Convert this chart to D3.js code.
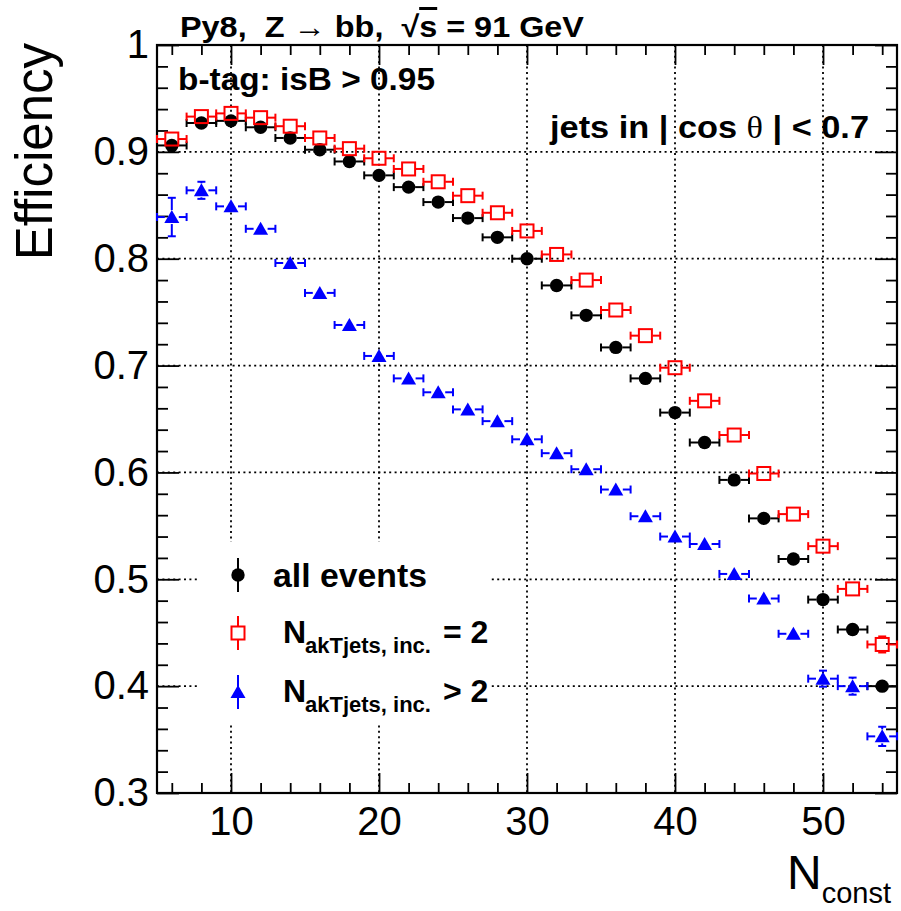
<!DOCTYPE html>
<html><head><meta charset="utf-8">
<script src="https://cdn.jsdelivr.net/npm/d3@7"></script>
<style>body{margin:0;background:#fff} svg{display:block} text{white-space:pre}</style>
</head><body>
<script>
// ---- data ----
const nconst = [6,8,10,12,14,16,18,20,22,24,26,28,30,32,34,36,38,40,42,44,46,48,50,52,54];
const binHalfWidth = 1;
const effAll  = [0.906,0.927,0.929,0.923,0.913,0.902,0.891,0.878,0.867,0.853,0.838,0.820,0.800,0.775,0.747,0.717,0.688,0.656,0.628,0.593,0.557,0.519,0.481,0.453,0.400];
const errAll  = [0.004,0.003,0.002,0.002,0.002,0.002,0.002,0.002,0.002,0.002,0.002,0.002,0.002,0.002,0.003,0.003,0.003,0.003,0.003,0.004,0.004,0.004,0.005,0.005,0.005];
const effTwo  = [0.912,0.933,0.936,0.932,0.924,0.913,0.903,0.894,0.884,0.872,0.859,0.843,0.826,0.804,0.780,0.752,0.728,0.698,0.667,0.635,0.599,0.561,0.531,0.491,0.439];
const errTwo  = [0.004,0.003,0.002,0.002,0.002,0.002,0.002,0.002,0.002,0.002,0.002,0.002,0.002,0.002,0.003,0.003,0.003,0.003,0.003,0.004,0.004,0.004,0.005,0.006,0.0075];
const effMore = [0.839,0.864,0.849,0.828,0.796,0.768,0.738,0.709,0.688,0.675,0.659,0.648,0.631,0.618,0.603,0.584,0.559,0.540,0.533,0.505,0.482,0.449,0.407,0.400,0.353];
const errMore = [0.018,0.008,0.005,0.004,0.003,0.003,0.003,0.003,0.003,0.003,0.003,0.003,0.003,0.003,0.003,0.003,0.004,0.004,0.004,0.005,0.005,0.005,0.0075,0.008,0.009];
const xMajorTicks = [10,20,30,40,50];
const xMinorTicks = [6,8,12,14,16,18,22,24,26,28,32,34,36,38,42,44,46,48,52,54];
const yMajorTicks = [0.3,0.4,0.5,0.6,0.7,0.8,0.9,1.0];
const yTickLabels = ["0.3","0.4","0.5","0.6","0.7","0.8","0.9","1"];
const xGrid = [10,20,30,40,50];
const yGrid = [0.4,0.5,0.6,0.7,0.8,0.9];
const seriesNames = ["all events","N_akTjets, inc. = 2","N_akTjets, inc. > 2"];

// ---- layout ----
const W = 901, H = 911;
const L = 157, R = 897, T = 45, B = 793;
const svg = d3.select("body").append("svg").attr("width", W).attr("height", H)
  .style("font-family", "'Liberation Sans', Arial, Helvetica, sans-serif");
const x = d3.scaleLinear().domain([5,55]).range([L,R]);
const y = d3.scaleLinear().domain([0.3,1.0]).range([B,T]);
const yMinorTicks = d3.range(0.3, 1.0001, 0.02).map(v => +v.toFixed(2)).filter(v => !yMajorTicks.some(m => Math.abs(m - v) < 1e-6));

// grid
const grid = svg.append("g").attr("stroke", "#000").attr("stroke-width", 1.8).attr("stroke-dasharray", "2,3.4");
grid.selectAll(".gx").data(xGrid).join("line").attr("x1", d => x(d)).attr("x2", d => x(d)).attr("y1", T).attr("y2", B);
grid.selectAll(".gy").data(yGrid).join("line").attr("y1", d => y(d)).attr("y2", d => y(d)).attr("x1", L).attr("x2", R);

// legend background (covers grid)
svg.append("rect").attr("x", 200).attr("y", 542).attr("width", 290).attr("height", 180).attr("fill", "#fff");

// axes
function styleAxis(g){ g.select(".domain").remove(); g.selectAll(".tick line").attr("stroke","#000").attr("stroke-width",1.8); }
const bottom = svg.append("g").attr("transform", `translate(0,${B})`)
  .call(d3.axisBottom(x).tickValues(xMajorTicks).tickSize(-20).tickPadding(12).tickFormat(d3.format("d")));
styleAxis(bottom);
bottom.selectAll("text").attr("font-size", 40).attr("fill", "#000").attr("dy", "0.74em");
svg.append("g").attr("transform", `translate(0,${B})`)
  .call(d3.axisBottom(x).tickValues(xMinorTicks).tickSize(-10).tickFormat("")).call(styleAxis);
svg.append("g").attr("transform", `translate(0,${T})`)
  .call(d3.axisTop(x).tickValues(xMajorTicks).tickSize(-20).tickFormat("")).call(styleAxis);
svg.append("g").attr("transform", `translate(0,${T})`)
  .call(d3.axisTop(x).tickValues(xMinorTicks).tickSize(-10).tickFormat("")).call(styleAxis);

const left = svg.append("g").attr("transform", `translate(${L},0)`)
  .call(d3.axisLeft(y).tickValues(yMajorTicks).tickSize(-22).tickPadding(8).tickFormat((d,i) => yTickLabels[i]));
styleAxis(left);
left.selectAll("text").attr("font-size", 40).attr("fill", "#000");
svg.append("g").attr("transform", `translate(${L},0)`)
  .call(d3.axisLeft(y).tickValues(yMinorTicks).tickSize(-11).tickFormat("")).call(styleAxis);
svg.append("g").attr("transform", `translate(${R},0)`)
  .call(d3.axisRight(y).tickValues(yMajorTicks).tickSize(-22).tickFormat("")).call(styleAxis);
svg.append("g").attr("transform", `translate(${R},0)`)
  .call(d3.axisRight(y).tickValues(yMinorTicks).tickSize(-11).tickFormat("")).call(styleAxis);

svg.append("rect").attr("x", L).attr("y", T).attr("width", R-L).attr("height", B-T)
  .attr("fill", "none").attr("stroke", "#000").attr("stroke-width", 2.2);

// axis titles
svg.append("text").attr("transform", "translate(52,43) rotate(-90)").attr("text-anchor", "end")
  .attr("font-size", 51).text("Efficiency");
const xt = svg.append("text").attr("x", 787).attr("y", 889).attr("font-size", 48);
xt.append("tspan").text("N");
xt.append("tspan").attr("font-size", 29).attr("dy", 14).text("const");

// ---- series ----
const series = [
  {eff: effAll,  err: errAll,  color: "#000", marker: "circle",   gap: 6.5},
  {eff: effTwo,  err: errTwo,  color: "#ff0000", marker: "square", gap: 7},
  {eff: effMore, err: errMore, color: "#0000ff", marker: "triangle", gap: 7}
];
const triPath = "M0,-7L7.5,6L-7.5,6Z";
function drawMarker(g, type, color){
  if (type === "circle") g.append("circle").attr("r", 6.7).attr("fill", color);
  else if (type === "square") g.append("rect").attr("x", -6.5).attr("y", -6.5).attr("width", 13).attr("height", 13)
      .attr("fill", "none").attr("stroke", color).attr("stroke-width", 2);
  else g.append("path").attr("d", triPath).attr("fill", color);
}
series.forEach(s => {
  const g = svg.append("g").attr("stroke", s.color).attr("stroke-width", 2);
  nconst.forEach((n, i) => {
    const cx = x(n), cy = y(s.eff[i]);
    const x0 = x(n - binHalfWidth), x1 = x(n + binHalfWidth);
    const yTop = y(s.eff[i] + s.err[i]), yBot = y(s.eff[i] - s.err[i]);
    const pg = g.append("g");
    pg.append("line").attr("x1", x0).attr("x2", cx - s.gap).attr("y1", cy).attr("y2", cy);
    pg.append("line").attr("x1", cx + s.gap).attr("x2", x1).attr("y1", cy).attr("y2", cy);
    pg.append("line").attr("x1", x0).attr("x2", x0).attr("y1", cy - 4).attr("y2", cy + 4);
    pg.append("line").attr("x1", x1).attr("x2", x1).attr("y1", cy - 4).attr("y2", cy + 4);
    if (cy - yTop > s.gap) {
      pg.append("line").attr("x1", cx).attr("x2", cx).attr("y1", yTop).attr("y2", cy - s.gap);
      pg.append("line").attr("x1", cx).attr("x2", cx).attr("y1", yBot).attr("y2", cy + s.gap);
      pg.append("line").attr("x1", cx - 4).attr("x2", cx + 4).attr("y1", yTop).attr("y2", yTop);
      pg.append("line").attr("x1", cx - 4).attr("x2", cx + 4).attr("y1", yBot).attr("y2", yBot);
    }
    const mg = pg.append("g").attr("transform", `translate(${cx},${cy})`).attr("stroke", "none");
    drawMarker(mg, s.marker, s.color);
  });
});

// ---- legend ----
const legY = [575, 633, 692];
series.forEach((s, i) => {
  const g = svg.append("g").attr("transform", `translate(238,${legY[i]})`);
  g.append("line").attr("y1", -17).attr("y2", 17).attr("stroke", s.color).attr("stroke-width", 2);
  const mg = g.append("g");
  if (s.marker === "square") {
    mg.append("rect").attr("x", -6.5).attr("y", -6.5).attr("width", 13).attr("height", 13)
      .attr("fill", "#fff").attr("stroke", s.color).attr("stroke-width", 2);
  } else drawMarker(mg, s.marker, s.color);
});
svg.append("text").attr("x", 273).attr("y", 587).attr("font-size", 33).attr("font-weight", "bold")
  .attr("textLength", 154).attr("lengthAdjust", "spacingAndGlyphs").text(seriesNames[0]);
[[1, "= 2"], [2, "> 2"]].forEach(([i, tail]) => {
  const base = legY[i] + 10;
  const t = svg.append("text").attr("y", base).attr("font-weight", "bold");
  t.append("tspan").attr("x", 283).attr("font-size", 32).text("N");
  t.append("tspan").attr("x", 305).attr("dy", 10).attr("font-size", 22).text("akTjets, inc.");
  t.append("tspan").attr("x", 443).attr("dy", -10).attr("font-size", 32).text(tail);
});

// ---- annotations ----
const title = svg.append("text").attr("x", 180).attr("y", 37).attr("font-size", 30).attr("font-weight", "bold")
  .attr("textLength", 404).attr("lengthAdjust", "spacingAndGlyphs");
title.append("tspan").text("Py8,  Z \u2192 bb,  \u221A");
title.append("tspan").style("text-decoration", "overline").text("s");
title.append("tspan").text(" = 91 GeV");

svg.append("text").attr("x", 178).attr("y", 90).attr("font-size", 32).attr("font-weight", "bold")
  .attr("textLength", 257).attr("lengthAdjust", "spacingAndGlyphs").text("b-tag: isB > 0.95");

const jt = svg.append("text").attr("x", 550).attr("y", 138).attr("font-size", 32).attr("font-weight", "bold")
  .attr("textLength", 319).attr("lengthAdjust", "spacingAndGlyphs");
jt.append("tspan").text("jets in | cos ");
jt.append("tspan").attr("font-family", "'Liberation Serif', serif").attr("font-weight", "normal").text("\u03B8");
jt.append("tspan").text(" | < 0.7");
</script>
</body></html>
